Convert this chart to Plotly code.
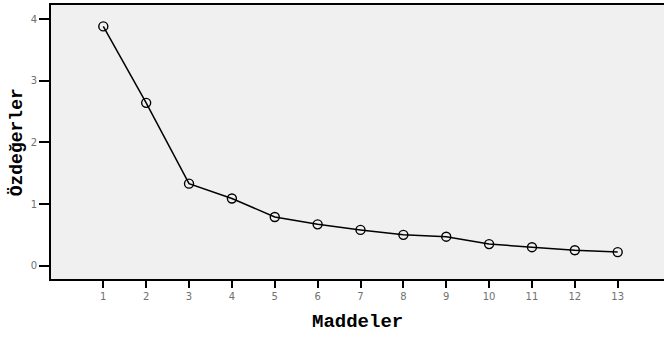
import plotly.graph_objects as go

items = [1, 2, 3, 4, 5, 6, 7, 8, 9, 10, 11, 12, 13]
eigenvalues = [3.88, 2.64, 1.33, 1.09, 0.79, 0.67, 0.58, 0.50, 0.47, 0.35, 0.30, 0.25, 0.22]
y_ticks = [0, 1, 2, 3, 4]
x_title = "Maddeler"
y_title = "Özdeğerler"

fig = go.Figure()
fig.add_trace(go.Scatter(
    x=items, y=eigenvalues, mode="lines+markers",
    line=dict(color="black", width=1.5),
    marker=dict(symbol="circle-open", size=9, color="black", line=dict(width=1.4, color="black")),
    showlegend=False,
))

tickfont = dict(family="DejaVu Sans", size=10, color="#707070")
fig.update_layout(
    width=664, height=338,
    margin=dict(l=51, r=0, t=5, b=59),
    paper_bgcolor="white", plot_bgcolor="#f0f0f0",
    xaxis=dict(range=[-0.22, 14.08], tickvals=items, ticks="outside", ticklen=7, tickwidth=2,
               tickcolor="black", showline=True, linecolor="black", linewidth=2, mirror=True,
               showgrid=False, zeroline=False, tickfont=tickfont),
    yaxis=dict(range=[-0.216, 4.227], tickvals=y_ticks, ticks="outside", ticklen=10, tickwidth=2,
               tickcolor="black", showline=True, linecolor="black", linewidth=2,
               showgrid=False, zeroline=False, tickfont=tickfont),
    annotations=[
        dict(text=x_title, xref="paper", yref="paper", x=0.5, y=-0.158, xanchor="center",
             yanchor="middle", showarrow=False,
             font=dict(family="Liberation Mono", size=19, color="black", weight="bold")),
        dict(text=y_title, xref="paper", yref="paper", x=-0.055, y=0.5, xanchor="center",
             yanchor="middle", textangle=-90, showarrow=False,
             font=dict(family="Liberation Mono", size=18, color="black", weight="bold")),
    ],
)
fig.write_html("out.html", config={"displayModeBar": False},
               post_script="document.body.style.margin='0';document.body.style.overflow='hidden';")
